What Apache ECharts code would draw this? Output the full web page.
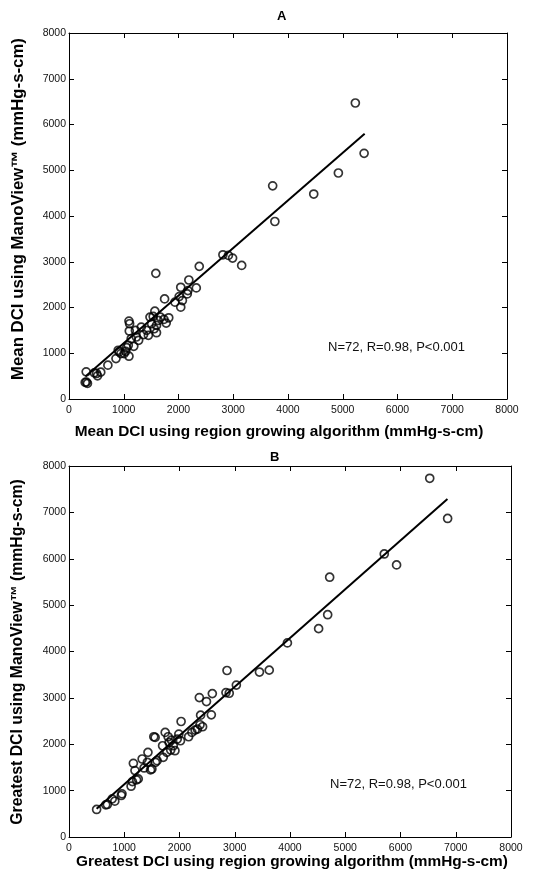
<!DOCTYPE html>
<html>
<head>
<meta charset="utf-8">
<script src="https://cdn.jsdelivr.net/npm/echarts@6/dist/echarts.min.js"></script>
<style>html,body{margin:0;padding:0;background:#fff;}#c{width:540px;height:884px;}</style>
</head>
<body>
<div id="c"></div>
<script>
// Panel A: Mean DCI
var meanRegion = [314,296,337,318,462,521,503,580,710,858,899,917,947,1006,1036,1095,1053,1083,1095,1107,1101,1136,1183,1213,1231,1272,1320,1361,1420,1450,1479,1509,1538,1556,1568,1598,1586,1627,1598,1669,1734,1746,1775,1822,1935,2012,2041,2041,2071,2160,2172,2189,2325,2379,2811,2911,2988,3154,3720,3760,4470,4920,5230,5390];
var meanMano = [594,362,341,370,572,507,558,587,739,884,1065,1029,993,993,1043,935,1123,1174,1703,1645,1486,1319,1152,1500,1355,1283,1572,1406,1500,1391,1790,1645,1804,1536,1920,1449,2746,1717,1609,1790,1739,2188,1659,1775,2116,2239,2442,2007,2152,2297,2370,2601,2428,2899,3152,3138,3080,2920,4660,3880,4480,4940,6470,5370];
var meanFitX = [300,5400];
var meanFitY = [490,5800];

// Panel B: Greatest DCI
var greatRegion = [500,665,694,782,829,947,959,1124,1147,1165,1194,1224,1253,1324,1359,1418,1429,1476,1500,1535,1559,1565,1594,1694,1706,1741,1771,1794,1812,1841,1853,1888,1918,1959,1988,2018,2029,2165,2224,2282,2324,2371,2382,2418,2359,2488,2576,2594,2841,2900,2860,3029,3447,3624,3953,4518,4682,4718,5706,5929,6529,6853];
var greatMano = [594,694,701,823,773,895,931,1095,1195,1589,1432,1231,1253,1682,1489,1611,1825,1446,1467,2162,2147,1611,1646,1968,1718,2255,1825,2162,2040,1875,2090,1968,1861,2112,2219,2076,2491,2162,2255,2305,2326,2420,2627,2377,3006,2921,2634,3092,3114,3100,3590,3276,3557,3598,4185,4493,4793,5602,6103,5867,7735,6869];
var greatFitX = [500,6850];
var greatFitY = [610,7290];

var axisTicks = [0,1000,2000,3000,4000,5000,6000,7000,8000];
var statsText = 'N=72, R=0.98, P<0.001';
var titles = ['A','B'];
var xNames = ['Mean DCI using region growing algorithm (mmHg-s-cm)','Greatest DCI using region growing algorithm (mmHg-s-cm)'];
var yNames = ['Mean DCI using ManoView\u2122 (mmHg-s-cm)','Greatest DCI using ManoView\u2122 (mmHg-s-cm)'];

function zip(a,b){var r=[];for(var i=0;i<a.length;i++)r.push([a[i],b[i]]);return r;}

var FONT = 'Liberation Sans, Arial, Helvetica, sans-serif';
var axMin = axisTicks[0], axMax = axisTicks[axisTicks.length-1], axInt = axisTicks[1]-axisTicks[0];

function mainAxis(gridIndex, pos, isY){
  return {
    type:'value', gridIndex:gridIndex, position:pos, min:axMin, max:axMax, interval:axInt,
    axisLine:{show:true, onZero:false, lineStyle:{color:'#000', width:1}},
    axisTick:{show:true, inside:true, length:5, lineStyle:{color:'#000'}},
    axisLabel:{show:true, fontFamily:FONT, fontSize:10.5, color:'#111', margin:isY?3:6,
      formatter:function(v){return String(v);}},
    splitLine:{show:false}
  };
}
function mirrorAxis(gridIndex, pos){
  return {
    type:'value', gridIndex:gridIndex, position:pos, min:axMin, max:axMax, interval:axInt,
    axisLine:{show:true, onZero:false, lineStyle:{color:'#000', width:1}},
    axisTick:{show:true, inside:true, length:5, lineStyle:{color:'#000'}},
    axisLabel:{show:false}, splitLine:{show:false}
  };
}
function label(text, x, y, size, rotate){
  return {type:'text', x:x, y:y, rotation: rotate ? Math.PI/2 : 0,
    style:{text:text, font:'bold '+size+'px '+FONT, fill:'#000', textAlign:'center', textVerticalAlign:'middle'}};
}

var scatterStyle = {color:'rgba(0,0,0,0)', borderColor:'#000', borderWidth:1.7};

var option = {
  backgroundColor:'#fff',
  animation:false,
  title:[
    {text:titles[0], left:272, top:5, textStyle:{fontFamily:FONT, fontWeight:'bold', fontSize:13, color:'#000'}},
    {text:titles[1], left:265, top:446, textStyle:{fontFamily:FONT, fontWeight:'bold', fontSize:13, color:'#000'}}
  ],
  grid:[
    {left:69, top:33, width:438, height:366},
    {left:69, top:466, width:442, height:371}
  ],
  xAxis:[
    mainAxis(0,'bottom',false),
    mirrorAxis(0,'top'),
    mainAxis(1,'bottom',false),
    mirrorAxis(1,'top')
  ],
  yAxis:[
    mainAxis(0,'left',true),
    mirrorAxis(0,'right'),
    mainAxis(1,'left',true),
    mirrorAxis(1,'right')
  ],
  graphic:[
    label(xNames[0], 279, 432, 15.4, false),
    label(xNames[1], 292, 862, 15.4, false),
    label(yNames[0], 18, 209, 16.8, true),
    label(yNames[1], 18, 652, 15.8, true),
    {type:'text', left:328, top:341, style:{text:statsText, font:'13px '+FONT, fill:'#111'}},
    {type:'text', left:330, top:778, style:{text:statsText, font:'13px '+FONT, fill:'#111'}}
  ],
  series:[
    {type:'scatter', xAxisIndex:0, yAxisIndex:0, symbol:'circle', symbolSize:8, itemStyle:scatterStyle, data:zip(meanRegion, meanMano), z:3},
    {type:'line', xAxisIndex:0, yAxisIndex:0, symbol:'none', lineStyle:{color:'#000', width:2}, data:zip(meanFitX, meanFitY), z:2},
    {type:'scatter', xAxisIndex:2, yAxisIndex:2, symbol:'circle', symbolSize:8, itemStyle:scatterStyle, data:zip(greatRegion, greatMano), z:3},
    {type:'line', xAxisIndex:2, yAxisIndex:2, symbol:'none', lineStyle:{color:'#000', width:2}, data:zip(greatFitX, greatFitY), z:2}
  ]
};
var chart = echarts.init(document.getElementById('c'), null, {renderer:'canvas'});
chart.setOption(option);
</script>
</body>
</html>
